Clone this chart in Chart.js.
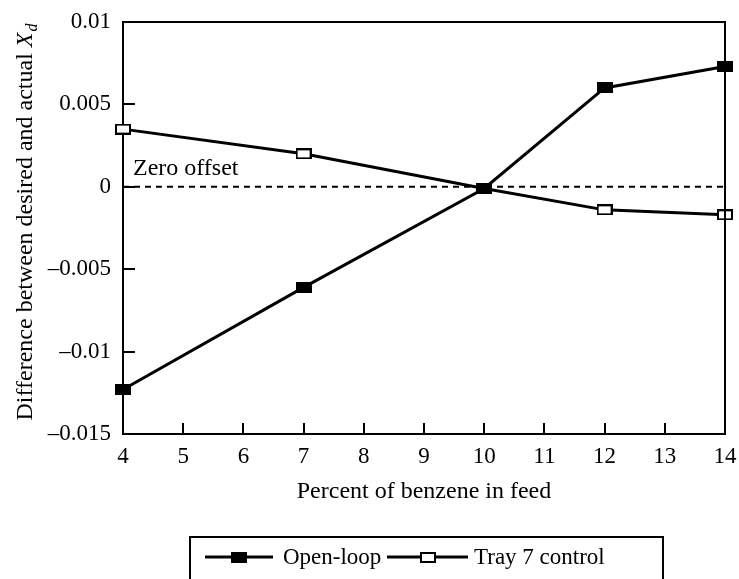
<!DOCTYPE html>
<html>
<head>
<meta charset="utf-8">
<script src="https://cdn.jsdelivr.net/npm/chart.js@4.4.1/dist/chart.umd.min.js"></script>
<style>
  html, body { margin: 0; padding: 0; background: #fff; }
  #wrap { width: 739px; height: 579px; }
</style>
</head>
<body>
<div id="wrap"><canvas id="c" width="739" height="579"></canvas></div>
<script>
// data
const benzene = [4, 7, 10, 12, 14];
const openLoop = [-0.0123, -0.0061, -0.0001, 0.0060, 0.0073];
const tray7 = [0.0035, 0.0020, -0.0001, -0.0014, -0.0017];
const zeroX = [4, 14];
const zeroY = [0, 0];
const xTicks = [4, 5, 6, 7, 8, 9, 10, 11, 12, 13, 14];
const yTicks = [-0.015, -0.01, -0.005, 0, 0.005, 0.01];

const FONT = "'Liberation Serif', 'DejaVu Serif', serif";

// rectangular markers like the original
function marker(filled) {
    const c = document.createElement("canvas");
    c.width = 16; c.height = 11;
    const g = c.getContext("2d");
    g.fillStyle = "#000";
    g.fillRect(0, 0, 16, 11);
    if (!filled) {
        g.fillStyle = "#fff";
        g.fillRect(2, 2, 12, 7);
    }
    return c;
}
const solidMark = marker(true);
const hollowMark = marker(false);

const pairs = (xs, ys) => xs.map((x, i) => ({ x: x, y: ys[i] }));

// frame, inward ticks, labels, legend
const decor = {
    id: "decor",
    afterDraw(chart) {
        const ctx = chart.ctx;
        const a = chart.chartArea;
        const xs = chart.scales.x, ys = chart.scales.y;
        ctx.save();
        ctx.strokeStyle = "#000";
        ctx.lineWidth = 2;
        // top and right frame
        ctx.beginPath();
        ctx.moveTo(a.left, a.top);
        ctx.lineTo(a.right, a.top);
        ctx.lineTo(a.right, a.bottom);
        ctx.stroke();
        // inward ticks
        ctx.beginPath();
        xTicks.slice(1, -1).forEach(v => {
            const px = Math.round(xs.getPixelForValue(v));
            ctx.moveTo(px, a.bottom);
            ctx.lineTo(px, a.bottom - 11);
        });
        yTicks.slice(1, -1).forEach(v => {
            const py = Math.round(ys.getPixelForValue(v));
            ctx.moveTo(a.left, py);
            ctx.lineTo(a.left + 12, py);
        });
        ctx.stroke();

        ctx.fillStyle = "#000";
        ctx.font = "24px " + FONT;
        ctx.textBaseline = "alphabetic";

        // zero offset label
        ctx.textAlign = "left";
        ctx.fillText("Zero offset", xs.getPixelForValue(4) + 10, ys.getPixelForValue(0) - 12);

        // x axis title
        ctx.textAlign = "center";
        ctx.fillText("Percent of benzene in feed", (a.left + a.right) / 2, 498);
        ctx.textAlign = "left";

        // y axis title with italic X and subscript d
        const t1 = "Difference between desired and actual ";
        ctx.font = "24px " + FONT;
        const w1 = ctx.measureText(t1).width;
        ctx.font = "italic 24px " + FONT;
        const w2 = ctx.measureText("X").width;
        ctx.font = "italic 16px " + FONT;
        const w3 = ctx.measureText("d").width;
        const total = w1 + w2 + w3 + 1;
        ctx.translate(32, 222);
        ctx.rotate(-Math.PI / 2);
        let sx = -total / 2;
        ctx.font = "24px " + FONT;
        ctx.fillText(t1, sx, 0);
        sx += w1;
        ctx.font = "italic 24px " + FONT;
        ctx.fillText("X", sx, 0);
        sx += w2 + 1;
        ctx.font = "italic 16px " + FONT;
        ctx.fillText("d", sx, 5);
        ctx.restore();

        // legend box
        ctx.save();
        ctx.strokeStyle = "#000";
        ctx.lineWidth = 2;
        ctx.strokeRect(190, 537, 473, 60);
        ctx.lineWidth = 3;
        ctx.font = "23px " + FONT;
        ctx.fillStyle = "#000";
        ctx.textBaseline = "middle";
        const items = [
            { x0: 205, x1: 273, mark: solidMark, label: chart.data.datasets[0].label, tx: 283 },
            { x0: 387, x1: 468, mark: hollowMark, label: chart.data.datasets[1].label, tx: 474 }
        ];
        const ly = 557;
        items.forEach(it => {
            ctx.beginPath();
            ctx.moveTo(it.x0, ly);
            ctx.lineTo(it.x1, ly);
            ctx.stroke();
            const mx = (it.x0 + it.x1) / 2;
            ctx.drawImage(it.mark, Math.round(mx - 8), Math.round(ly - 5.5));
            ctx.fillText(it.label, it.tx, ly + 1);
        });
        ctx.restore();
    }
};

new Chart(document.getElementById("c"), {
    type: "scatter",
    data: {
        datasets: [
            {
                label: "Open-loop",
                data: pairs(benzene, openLoop),
                showLine: true,
                borderColor: "#000",
                borderWidth: 3,
                pointStyle: solidMark,
                clip: false
            },
            {
                label: "Tray 7 control",
                data: pairs(benzene, tray7),
                showLine: true,
                borderColor: "#000",
                borderWidth: 3,
                pointStyle: hollowMark,
                clip: false
            },
            {
                label: "Zero offset",
                data: pairs(zeroX, zeroY),
                showLine: true,
                borderColor: "#000",
                borderWidth: 2,
                borderDash: [6, 5],
                pointRadius: 0,
                order: 5
            }
        ]
    },
    options: {
        responsive: false,
        animation: false,
        layout: { padding: { top: 22, right: 14, left: 0, bottom: 0 } },
        plugins: {
            legend: { display: false },
            tooltip: { enabled: false }
        },
        scales: {
            x: {
                type: "linear",
                min: 4,
                max: 14,
                afterBuildTicks: s => { s.ticks = xTicks.map(v => ({ value: v })); },
                afterFit: s => { s.height = 145; s.paddingLeft = 0; s.paddingRight = 0; },
                grid: { display: false, drawTicks: false },
                border: { display: true, color: "#000", width: 2 },
                ticks: {
                    color: "#000",
                    padding: 9,
                    maxRotation: 0,
                    font: { family: FONT, size: 23 }
                }
            },
            y: {
                min: -0.015,
                max: 0.01,
                afterBuildTicks: s => { s.ticks = yTicks.map(v => ({ value: v })); },
                afterFit: s => { s.width = 123; s.paddingTop = 0; s.paddingBottom = 0; },
                grid: { display: false, drawTicks: false },
                border: { display: true, color: "#000", width: 2 },
                ticks: {
                    color: "#000",
                    padding: 12,
                    font: { family: FONT, size: 23 },
                    callback: v => String(Math.round(v * 1000) / 1000).replace("-", "\u2013")
                }
            }
        }
    },
    plugins: [decor]
});
</script>
</body>
</html>
